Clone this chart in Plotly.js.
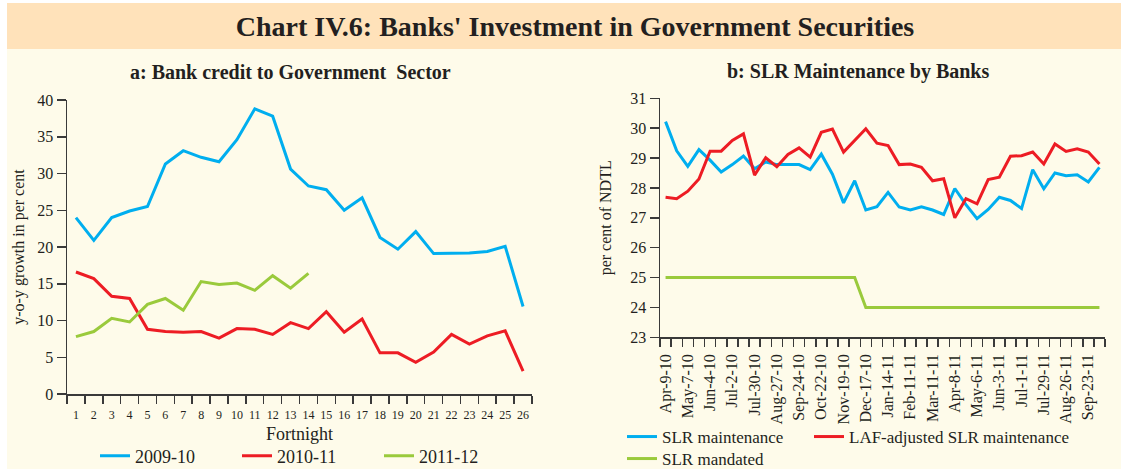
<!DOCTYPE html>
<html>
<head>
<meta charset="utf-8">
<script src="https://cdn.plot.ly/plotly-3.0.1.min.js"></script>
<style>html,body{margin:0;padding:0;background:#fff;}#chart{width:1127px;height:469px;}</style>
</head>
<body>
<div id="chart"></div>
<script>
// ---- Panel a: Bank credit to Government Sector (y-o-y growth, per cent) ----
const fortnight = [1,2,3,4,5,6,7,8,9,10,11,12,13,14,15,16,17,18,19,20,21,22,23,24,25,26];
const credit0910 = [24.0,20.9,24.0,24.9,25.5,31.3,33.1,32.2,31.6,34.6,38.8,37.8,30.6,28.3,27.8,25.0,26.7,21.3,19.7,22.1,19.1,19.1,19.2,19.4,20.1,11.9];
const credit1011 = [16.6,15.7,13.3,13.0,8.8,8.5,8.4,8.5,7.6,8.9,8.8,8.1,9.7,8.9,11.2,8.4,10.2,5.6,5.6,4.3,5.7,8.1,6.8,7.9,8.6,3.1];
const credit1112 = [7.8,8.5,10.3,9.8,12.2,13.0,11.4,15.3,14.9,15.1,14.1,16.1,14.4,16.4];

// ---- Panel b: SLR maintenance by banks (per cent of NDTL) ----
const slrDates = ["Apr-9-10","Apr-23-10","May-7-10","May-21-10","Jun-4-10","Jun-18-10","Jul-2-10","Jul-16-10","Jul-30-10","Aug-13-10",
  "Aug-27-10","Sep-10-10","Sep-24-10","Oct-8-10","Oct-22-10","Nov-5-10","Nov-19-10","Dec-3-10","Dec-17-10","Dec-31-10",
  "Jan-14-11","Jan-28-11","Feb-11-11","Feb-25-11","Mar-11-11","Mar-25-11","Apr-8-11","Apr-22-11","May-6-11","May-20-11",
  "Jun-3-11","Jun-17-11","Jul-1-11","Jul-15-11","Jul-29-11","Aug-12-11","Aug-26-11","Sep-9-11","Sep-23-11","Oct-7-11"];
const slrMaint = [30.22,29.24,28.72,29.28,28.93,28.53,28.78,29.07,28.64,28.87,
  28.78,28.78,28.78,28.61,29.13,28.46,27.5,28.24,27.26,27.37,
  27.85,27.36,27.26,27.37,27.26,27.11,27.98,27.44,26.97,27.28,
  27.69,27.58,27.31,28.61,27.97,28.5,28.41,28.44,28.2,28.69];
const slrLaf = [27.69,27.64,27.89,28.30,29.23,29.23,29.59,29.81,28.43,29.01,
  28.71,29.12,29.34,29.03,29.86,29.97,29.2,29.6,29.98,29.5,
  29.42,28.78,28.8,28.69,28.24,28.31,27.0,27.64,27.47,28.28,
  28.36,29.06,29.08,29.2,28.8,29.47,29.22,29.31,29.2,28.8];
const slrMandated = [25,25,25,25,25,25,25,25,25,25,25,25,25,25,25,25,25,25,
  24,24,24,24,24,24,24,24,24,24,24,24,24,24,24,24,24,24,24,24,24,24];

const slrIndex = slrDates.map((d, i) => i);
const slrTickVals = slrIndex.filter(i => i % 2 === 0);
const slrTickText = slrTickVals.map(i => slrDates[i]);

const BLUE = '#00AEEF', RED = '#ED1C24', GREEN = '#9ACA3C';
const TXT = '#231F20', AX = '#3a3a3a';
const FONT = 'Liberation Serif, Times New Roman, serif';
const W = 1127, H = 469;
const px = x => x / W;
const py = y => 1 - y / H;

const traces = [
  {x: fortnight, y: credit0910, name: '2009-10', type: 'scatter', mode: 'lines', line: {color: BLUE, width: 3}, xaxis: 'x', yaxis: 'y', legend: 'legend'},
  {x: fortnight, y: credit1011, name: '2010-11', type: 'scatter', mode: 'lines', line: {color: RED, width: 3}, xaxis: 'x', yaxis: 'y', legend: 'legend'},
  {x: fortnight.slice(0, credit1112.length), y: credit1112, name: '2011-12', type: 'scatter', mode: 'lines', line: {color: GREEN, width: 3}, xaxis: 'x', yaxis: 'y', legend: 'legend'},
  {x: slrIndex, y: slrMaint, name: 'SLR maintenance', type: 'scatter', mode: 'lines', line: {color: BLUE, width: 3}, xaxis: 'x2', yaxis: 'y2', legend: 'legend2'},
  {x: slrIndex, y: slrLaf, name: 'LAF-adjusted SLR maintenance', type: 'scatter', mode: 'lines', line: {color: RED, width: 3}, xaxis: 'x2', yaxis: 'y2', legend: 'legend4'},
  {x: slrIndex, y: slrMandated, name: 'SLR mandated', type: 'scatter', mode: 'lines', line: {color: GREEN, width: 3}, xaxis: 'x2', yaxis: 'y2', legend: 'legend3'}
];

const axisCommon = {
  showgrid: false, zeroline: false, showline: true, linecolor: AX, linewidth: 1.5,
  tickcolor: AX, tickwidth: 1.5, tickfont: {family: FONT, size: 16, color: TXT}, automargin: false
};

const legendCommon = {
  orientation: 'h', bgcolor: 'rgba(0,0,0,0)', itemwidth: 30, borderwidth: 0
};

const layout = {
  width: W, height: H,
  margin: {l: 0, r: 0, t: 0, b: 0, autoexpand: false},
  paper_bgcolor: '#ffffff',
  plot_bgcolor: 'rgba(0,0,0,0)',
  font: {family: FONT, color: TXT},
  title: {
    text: "<b>Chart IV.6: Banks' Investment in Government Securities</b>",
    font: {family: FONT, size: 28, color: TXT},
    x: px(575), xanchor: 'center', y: py(26), yanchor: 'middle', xref: 'paper', yref: 'paper'
  },
  shapes: [
    {type: 'rect', xref: 'paper', yref: 'paper', x0: px(7), x1: px(1121), y0: 0, y1: py(3), fillcolor: '#FEFBEA', line: {width: 0}, layer: 'below'},
    {type: 'rect', xref: 'paper', yref: 'paper', x0: px(7), x1: px(1121), y0: py(49), y1: py(3), fillcolor: '#FFE2BA', line: {width: 0}, layer: 'below'}
  ],
  annotations: [
    {text: '<b>a: Bank credit to Government  Sector</b>', xref: 'paper', yref: 'paper', x: px(290), y: py(72), xanchor: 'center', yanchor: 'middle', showarrow: false, font: {family: FONT, size: 20, color: TXT}},
    {text: '<b>b: SLR Maintenance by Banks</b>', xref: 'paper', yref: 'paper', x: px(858), y: py(72), xanchor: 'center', yanchor: 'middle', showarrow: false, font: {family: FONT, size: 20, color: TXT}}
  ],
  xaxis: Object.assign({}, axisCommon, {
    domain: [px(67), px(532)], anchor: 'y', range: [0.5, 26.5],
    tickmode: 'array', tickvals: fortnight, ticktext: fortnight.map(String), ticks: '',
    ticklabelstandoff: 9,
    tickfont: {family: FONT, size: 12, color: TXT},
    minor: {ticks: 'outside', tick0: 0.5, dtick: 1, ticklen: 8, tickcolor: AX, tickwidth: 1.5},
    title: {text: 'Fortnight', font: {family: FONT, size: 18, color: TXT}, standoff: 6}
  }),
  yaxis: Object.assign({}, axisCommon, {
    domain: [1 - 394 / H, 1 - 100 / H], anchor: 'x', range: [0, 40], dtick: 5, ticks: 'outside', ticklen: 9,
    title: {text: 'y-o-y growth in per cent', font: {family: FONT, size: 16, color: TXT}, standoff: 8}
  }),
  xaxis2: Object.assign({}, axisCommon, {
    domain: [px(660), px(1105)], anchor: 'y2', range: [-0.5, 39.5],
    tickmode: 'array', tickvals: slrTickVals, ticktext: slrTickText, ticks: '', tickangle: -90,
    ticklabelstandoff: 9,
    tickfont: {family: FONT, size: 16, color: TXT},
    minor: {ticks: 'outside', tick0: -0.5, dtick: 1, ticklen: 8, tickcolor: AX, tickwidth: 1.5}
  }),
  yaxis2: Object.assign({}, axisCommon, {
    domain: [1 - 337.3 / H, 1 - 98.3 / H], anchor: 'x2', range: [23, 31], dtick: 1, ticks: 'outside', ticklen: 9,
    title: {text: 'per cent of NDTL', font: {family: FONT, size: 16, color: TXT}, standoff: 14}
  }),
  legend: Object.assign({}, legendCommon, {
    x: px(95), xanchor: 'left', y: py(456), yanchor: 'middle',
    font: {family: FONT, size: 18, color: TXT},
    entrywidth: 97, entrywidthmode: 'pixels'
  }),
  legend2: Object.assign({}, legendCommon, {
    x: px(622), xanchor: 'left', y: py(437), yanchor: 'middle',
    font: {family: FONT, size: 17, color: TXT}
  }),
  legend4: Object.assign({}, legendCommon, {
    x: px(809), xanchor: 'left', y: py(437), yanchor: 'middle',
    font: {family: FONT, size: 17, color: TXT}
  }),
  legend3: Object.assign({}, legendCommon, {
    x: px(622), xanchor: 'left', y: py(459), yanchor: 'middle',
    font: {family: FONT, size: 17, color: TXT}
  }),
  showlegend: true
};

Plotly.newPlot('chart', traces, layout, {displayModeBar: false, staticPlot: true});
</script>
</body>
</html>
